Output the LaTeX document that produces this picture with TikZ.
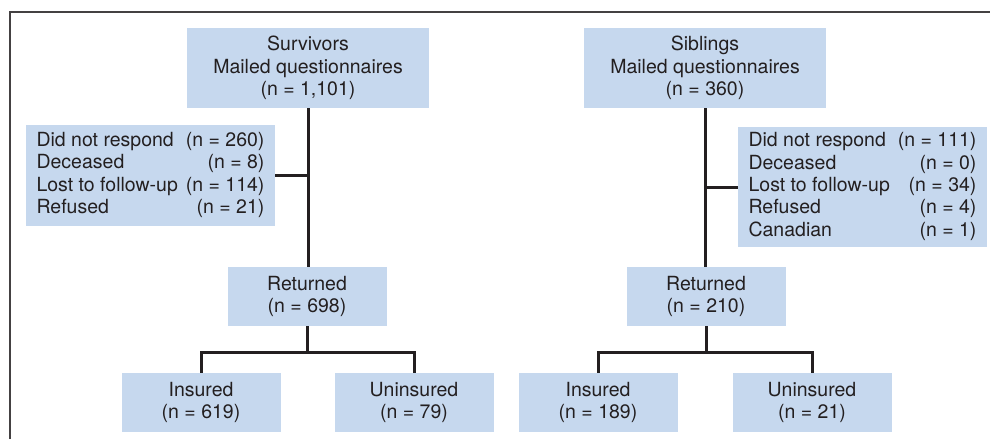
\documentclass[tikz,border=0pt]{standalone}
\usepackage{fontspec}
\setmainfont{TeX Gyre Heros}
\usepackage{xcolor}
\usetikzlibrary{calc}
\definecolor{boxblue}{RGB}{198,216,238}
\definecolor{ink}{RGB}{35,31,32}
\newcommand{\nrows}[1]{\begin{tabular}{@{}l@{\hspace{8pt}}r@{}}#1\end{tabular}}

\begin{document}
\begin{tikzpicture}[x=1pt, y=-1pt, font=\fontsize{19.5}{22.3}\selectfont, text=ink,
					box/.style={fill=boxblue, inner sep=0pt, align=center, minimum width=159pt, minimum height=59pt},
					sidebox/.style={fill=boxblue, inner sep=0pt, minimum width=249pt},
					link/.style={draw=ink, line width=3pt}]
		\useasboundingbox (0,0) rectangle (990,439);
		\draw[ink!85, line width=1.6pt] (10,439) -- (10,12) -- (990,12);
		% survivors
		\node[box, minimum width=242pt, minimum height=80pt] (survS) at (308,68) {Survivors\\Mailed questionnaires\\(n = 1,101)};
		\node[sidebox, minimum height=101pt] (sideS) at (150.5,175.5) {\nrows{Did not respond & (n = 260)\\ Deceased & (n = 8)\\ Lost to follow-up & (n = 114)\\ Refused & (n = 21)}};
		\node[box] (retS) at (307,296.5) {Returned\\(n = 698)};
		\node[box] (insS) at (201,402.5) {Insured\\(n = 619)};
		\node[box] (unS) at (414,402.5) {Uninsured\\(n = 79)};
		% siblings
		\node[box, minimum width=242pt, minimum height=80pt] (survB) at (705,68) {Siblings\\Mailed questionnaires\\(n = 360)};
		\node[sidebox, minimum height=120pt] (sideB) at (862.5,187) {\nrows{Did not respond & (n = 111)\\ Deceased & (n = 0)\\ Lost to follow-up & (n = 34)\\ Refused & (n = 4)\\ Canadian & (n = 1)}};
		\node[box] (retB) at (706,296.5) {Returned\\(n = 210)};
		\node[box] (insB) at (598,402.5) {Insured\\(n = 189)};
		\node[box] (unB) at (812,402.5) {Uninsured\\(n = 21)};
		% connectors
		\draw[link] (survS.south) -- (survS.south |- retS.north);
		\draw[link] (sideS.east) -- (sideS.east -| survS.south);
		\draw[link] (retS.south) -- ++(0,26) coordinate (jS);
		\draw[link] (insS.north) |- (jS) -| (unS.north);
		\draw[link] (survB.south) -- (survB.south |- retB.north);
		\draw[link] (sideB.west) -- (sideB.west -| survB.south);
		\draw[link] (retB.south) -- ++(0,26) coordinate (jB);
		\draw[link] (insB.north) |- (jB) -| (unB.north);
	\end{tikzpicture}
\end{document}
